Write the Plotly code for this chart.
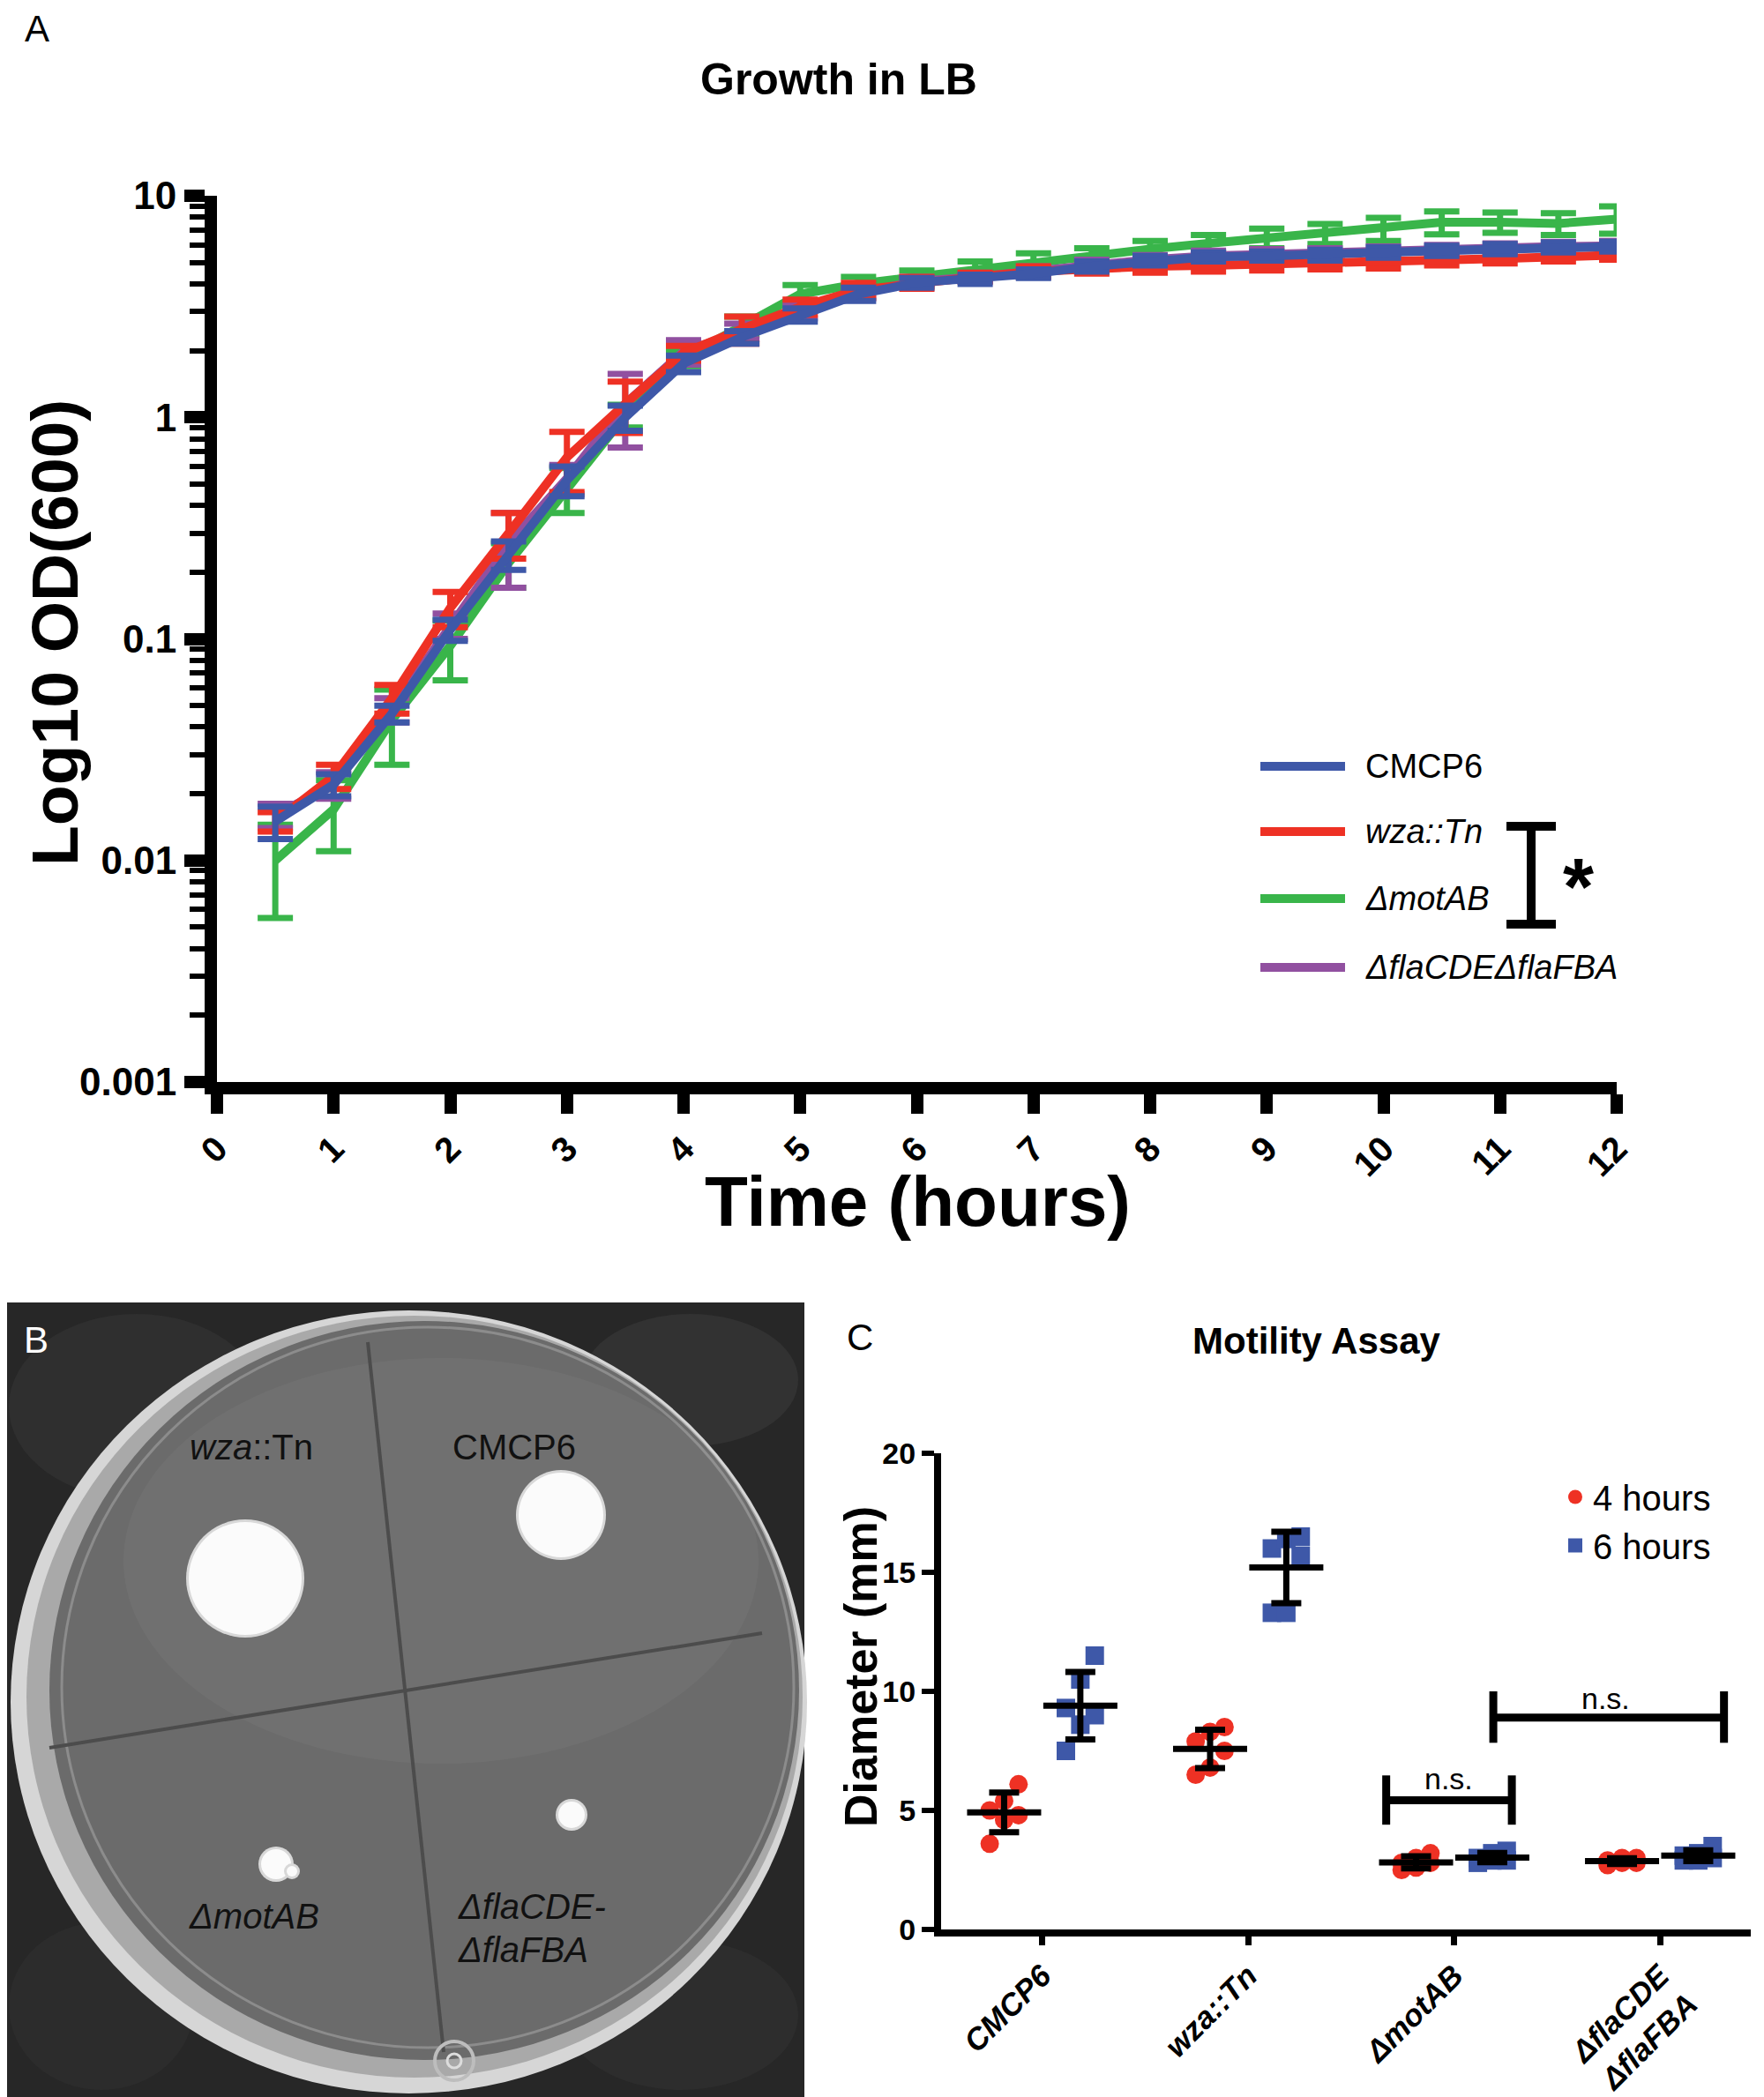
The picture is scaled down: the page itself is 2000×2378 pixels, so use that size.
import numpy as np
import plotly.graph_objects as go

# page is 2000 x 2378; the html body keeps an 8 px margin, so the figure is a bit smaller
# and every position below is given in page pixels and shifted by OFF
OFF = 8
W, H = 2000 - OFF, 2378 - OFF
FONT = "Liberation Sans, Arial, sans-serif"

# ---------------- panel A: growth in LB, OD600 mean +/- SD ----------------
hours = [0.5, 1, 1.5, 2, 2.5, 3, 3.5, 4, 4.5, 5, 5.5, 6,
         6.5, 7, 7.5, 8, 8.5, 9, 9.5, 10, 10.5, 11, 11.5, 12]

od_cmcp6 = [0.015, 0.022, 0.046, 0.11, 0.24, 0.52, 1.0, 1.75, 2.3, 2.9, 3.6, 4.05,
            4.2, 4.45, 4.8, 5.1, 5.3, 5.35, 5.4, 5.55, 5.65, 5.75, 5.85, 5.9]
sd_cmcp6 = [0.0025, 0.0025, 0.004, 0.012, 0.035, 0.08, 0.13, 0.15, 0.15, 0.2, 0.25, 0.2,
            0.2, 0.2, 0.25, 0.25, 0.25, 0.25, 0.3, 0.3, 0.3, 0.3, 0.3, 0.3]

od_wza = [0.015, 0.024, 0.054, 0.138, 0.3, 0.66, 1.15, 1.95, 2.5, 3.15, 3.75, 4.05,
          4.3, 4.55, 4.7, 4.8, 4.85, 4.9, 4.95, 5.0, 5.1, 5.2, 5.3, 5.4]
sd_wza = [0.0015, 0.003, 0.008, 0.025, 0.07, 0.2, 0.3, 0.15, 0.35, 0.25, 0.3, 0.25,
          0.2, 0.25, 0.25, 0.3, 0.3, 0.3, 0.3, 0.3, 0.25, 0.25, 0.25, 0.25]

od_mot = [0.0100, 0.0170, 0.043, 0.093, 0.22, 0.48, 1.02, 1.85, 2.6, 3.6, 4.0, 4.3,
          4.7, 5.05, 5.35, 5.75, 6.1, 6.45, 6.75, 7.1, 7.6, 7.6, 7.5, 7.85]
sd_mot = [0.0045, 0.006, 0.016, 0.028, 0.05, 0.11, 0.12, 0.15, 0.25, 0.35, 0.3, 0.3,
          0.35, 0.45, 0.45, 0.5, 0.55, 0.65, 0.7, 0.85, 0.9, 0.8, 0.85, 1.1]

od_fla = [0.016, 0.022, 0.048, 0.115, 0.27, 0.53, 1.15, 1.98, 2.45, 3.0, 3.65, 4.1,
          4.3, 4.55, 4.9, 5.15, 5.35, 5.45, 5.5, 5.6, 5.7, 5.8, 5.9, 5.95]
sd_fla = [0.002, 0.003, 0.006, 0.015, 0.1, 0.08, 0.42, 0.25, 0.2, 0.2, 0.2, 0.2,
          0.2, 0.25, 0.25, 0.25, 0.3, 0.3, 0.3, 0.3, 0.3, 0.3, 0.3, 0.3]

strain_names = ["CMCP6", "<i>wza::Tn</i>", "<i>ΔmotAB</i>", "<i>ΔflaCDEΔflaFBA</i>"]
od_ticks = [0.001, 0.01, 0.1, 1, 10]
od_ticktext = ["0.001", "0.01", "0.1", "1", "10"]

# ---------------- panel C: motility assay diameters (mm) ----------------
motility_groups = ["CMCP6", "wza::Tn", "ΔmotAB", "ΔflaCDE<br>ΔflaFBA"]
cmcp6_4h = [6.1, 5.4, 5.0, 4.8, 4.6, 3.6]
wza_4h = [8.5, 8.3, 7.9, 7.5, 6.8, 6.5]
mot_4h = [3.2, 3.0, 2.8, 2.8, 2.6, 2.5]
fla_4h = [3.0, 3.0, 2.9, 2.8, 2.8, 2.7]
cmcp6_6h = [11.5, 10.5, 9.3, 9.0, 8.6, 7.5]
wza_6h = [16.5, 16.4, 16.0, 15.7, 13.3, 13.3]
mot_6h = [3.3, 3.2, 3.0, 2.9, 2.9, 2.8]
fla_6h = [3.5, 3.2, 3.1, 3.0, 2.9, 2.9]
diam_ticks = [0, 5, 10, 15, 20]

BLUE = "#3e58a8"
RED = "#ee3124"
GREEN = "#39b54a"
PURPLE = "#9150a0"


def px(x):
    return (x - OFF) / W


def py(y):
    return 1 - (y - OFF) / H


fig = go.Figure()

# growth curves (drawn bottom to top)
for od, sd, col in [(od_mot, sd_mot, GREEN), (od_fla, sd_fla, PURPLE),
                    (od_wza, sd_wza, RED), (od_cmcp6, sd_cmcp6, BLUE)]:
    fig.add_trace(go.Scatter(x=hours, y=od, mode="lines",
                             line=dict(color=col, width=10),
                             error_y=dict(type="data", array=sd, color=col,
                                          thickness=7, width=20),
                             xaxis="x", yaxis="y", showlegend=False))

# motility points + mean/SD
group_off = 0.185
swarm = [-0.07, 0.0, 0.07]
for series, col, sym, name, side in [
        ([cmcp6_4h, wza_4h, mot_4h, fla_4h], RED, "circle", "4 hours", -1),
        ([cmcp6_6h, wza_6h, mot_6h, fla_6h], BLUE, "square", "6 hours", 1)]:
    xs, ys, mx, my, msd = [], [], [], [], []
    for i, vals in enumerate(series):
        centre = i + side * group_off
        order = np.argsort(vals)
        for k, j in enumerate(order):
            xs.append(centre + swarm[k % 3])
            ys.append(vals[j])
        mx.append(centre)
        my.append(float(np.mean(vals)))
        msd.append(float(np.std(vals, ddof=1)))
    fig.add_trace(go.Scatter(x=xs, y=ys, mode="markers", name=name,
                             marker=dict(color=col, size=21, symbol=sym),
                             xaxis="x2", yaxis="y2", legend="legend"))
    fig.add_trace(go.Scatter(x=mx, y=my, mode="markers", showlegend=False,
                             marker=dict(symbol="line-ew", size=60, color="black",
                                         line=dict(color="black", width=7)),
                             error_y=dict(type="data", array=msd, color="black",
                                          thickness=7, width=17),
                             xaxis="x2", yaxis="y2"))

shapes = []
annotations = []


def ellipse(x0, x1, y0, y1, fill=None, line=None, lw=0, layer="above"):
    return dict(type="circle", xref="paper", yref="paper", x0=px(x0), x1=px(x1),
                y0=py(y1), y1=py(y0), fillcolor=fill if fill else "rgba(0,0,0,0)",
                line=dict(color=line if line else "rgba(0,0,0,0)", width=lw), layer=layer)


def label(text, x, y, size, xanchor="center", color="black", angle=0, xref="paper", yref="paper"):
    if xref == "paper":
        x, y = px(x), py(y)
    return dict(text=text, x=x, y=y, xref=xref, yref=yref, xanchor=xanchor, yanchor="middle",
                showarrow=False, textangle=angle, font=dict(family=FONT, size=size, color=color))


# ---- panel B: drawn plate photo ----
shapes.append(dict(type="rect", xref="paper", yref="paper", x0=px(0), x1=px(912),
                   y0=py(2378), y1=py(1477), fillcolor="#272727", line_width=0, layer="below"))
for (x0, x1, y0, y1, c) in [(10, 300, 1490, 1700, "#2f2f2f"), (660, 905, 1490, 1640, "#323232"),
                            (640, 905, 2200, 2370, "#2d2d2d"), (10, 220, 2180, 2370, "#2c2c2c")]:
    shapes.append(ellipse(x0, x1, y0, y1, fill=c, layer="below"))

shapes.append(ellipse(12, 915, 1486, 2374, fill="#d6d6d6"))
shapes.append(ellipse(30, 910, 1492, 2356, fill="#a9a9a9"))
shapes.append(ellipse(56, 906, 1498, 2336, fill="#6b6b6b"))
shapes.append(ellipse(70, 900, 1505, 2322, line="#8c8c8c", lw=3))
shapes.append(ellipse(140, 860, 1540, 2000, fill="rgba(255,255,255,0.04)"))
for (x0, y0, x1, y1) in [(417, 1522, 503, 2327), (56, 1982, 864, 1852)]:
    shapes.append(dict(type="line", xref="paper", yref="paper", x0=px(x0), y0=py(y0),
                       x1=px(x1), y1=py(y1), line=dict(color="#4c4c4c", width=4)))
for (cx, cy, r) in [(278, 1790, 64), (636, 1718, 48), (313, 2114, 17), (331, 2122, 6), (648, 2058, 15)]:
    shapes.append(ellipse(cx - r - 3, cx + r + 3, cy - r - 3, cy + r + 3, fill="#d8d8d8"))
    shapes.append(ellipse(cx - r, cx + r, cy - r, cy + r, fill="#fbfbfb"))
shapes.append(ellipse(493, 537, 2315, 2359, line="#bdbdbd", lw=4))
shapes.append(ellipse(507, 523, 2329, 2345, line="#dddddd", lw=3))

for txt, x, y, anchor in [("<i>wza</i>::Tn", 285, 1641, "center"), ("CMCP6", 583, 1641, "center"),
                          ("<i>ΔmotAB</i>", 288, 2173, "center"),
                          ("<i>ΔflaCDE-</i>", 517, 2162, "left"), ("<i>ΔflaFBA</i>", 517, 2211, "left")]:
    annotations.append(label(txt, x, y, 40, xanchor=anchor, color="#111111"))

# ---- panel letters and titles ----
for letter, x, y, col in [("A", 42, 33, "black"), ("B", 41, 1519, "white"), ("C", 975, 1517, "black")]:
    annotations.append(label(letter, x, y, 42, color=col))

annotations.append(label("<b>Growth in LB</b>", 951, 90, 50))
annotations.append(label("<b>Time (hours)</b>", 1040, 1362, 80))
annotations.append(label("<b>Log10 OD(600)</b>", 62, 718, 75, angle=-90))
annotations.append(label("<b>Motility Assay</b>", 1492, 1520, 42))
annotations.append(label("<b>Diameter (mm)</b>", 976, 1890, 52, angle=-90))

# ---- panel A legend (drawn) and significance bracket ----
legend_rows = [869, 943, 1019, 1097]
for name, col, yy in zip(strain_names, [BLUE, RED, GREEN, PURPLE], legend_rows):
    shapes.append(dict(type="line", xref="paper", yref="paper", x0=px(1429), x1=px(1525),
                       y0=py(yy), y1=py(yy), line=dict(color=col, width=10)))
    annotations.append(label(name, 1546, yy, 38, xanchor="left"))
for (x0, y0, x1, y1) in [(1736, 937, 1736, 1048), (1708, 937, 1764, 937), (1708, 1048, 1764, 1048)]:
    shapes.append(dict(type="line", xref="paper", yref="paper", x0=px(x0), x1=px(x1),
                       y0=py(y0), y1=py(y1), line=dict(color="black", width=10)))
annotations.append(label("<b>*</b>", 1789, 1006, 90))

# ---- panel C n.s. brackets ----
for (xa, xb, yl, ylo, yhi, tx, ty) in [(1.67, 2.28, 5.43, 4.4, 6.47, 1.975, 6.35),
                                       (2.19, 3.31, 8.9, 7.84, 10.0, 2.737, 9.72)]:
    for (x0, y0, x1, y1) in [(xa, yl, xb, yl), (xa, ylo, xa, yhi), (xb, ylo, xb, yhi)]:
        shapes.append(dict(type="line", xref="x2", yref="y2", x0=x0, x1=x1, y0=y0, y1=y1,
                           line=dict(color="black", width=9)))
    annotations.append(label("n.s.", tx, ty, 34, xref="x2", yref="y2"))

bold = dict(family=FONT, color="black", weight="bold")

fig.update_layout(
    template="none",
    width=W, height=H,
    margin=dict(l=0, r=0, t=0, b=0, autoexpand=False),
    paper_bgcolor="white", plot_bgcolor="white",
    font=dict(family=FONT, color="black"),
    shapes=shapes, annotations=annotations,
    xaxis=dict(domain=[px(246), px(1833)], range=[0, 12], anchor="y", automargin=False,
               tickvals=list(range(13)), tickangle=-45, ticks="outside",
               ticklen=22, tickwidth=14, tickcolor="black",
               showline=True, linewidth=14, linecolor="black", showgrid=False, zeroline=False,
               tickfont=dict(size=40, **bold)),
    yaxis=dict(domain=[py(1227), py(222)], type="log", range=[-3, 1], anchor="x", automargin=False,
               tickvals=od_ticks, ticktext=od_ticktext, ticks="outside",
               ticklen=23, tickwidth=14, tickcolor="black",
               showline=True, linewidth=14, linecolor="black", showgrid=False, zeroline=False,
               tickfont=dict(size=44, **bold),
               minor=dict(ticks="outside", ticklen=17, tickwidth=6, tickcolor="black",
                          dtick="D1", showgrid=False)),
    xaxis2=dict(domain=[px(1067), px(1985)], range=[-0.491, 3.44], anchor="y2", automargin=False,
                tickvals=[0, 1, 2, 3], ticktext=motility_groups, tickangle=-45,
                ticks="outside", ticklen=10, tickwidth=7, tickcolor="black",
                showline=True, linewidth=8, linecolor="black", showgrid=False, zeroline=False,
                tickfont=dict(size=35, style="italic", **bold)),
    yaxis2=dict(domain=[py(2188), py(1648)], range=[0, 20], anchor="x2", automargin=False,
                tickvals=diam_ticks, ticks="outside", ticklen=14, tickwidth=6, tickcolor="black",
                showline=True, linewidth=8, linecolor="black", showgrid=False, zeroline=False,
                tickfont=dict(size=34, **bold)),
    legend=dict(x=px(1766), y=py(1665), xanchor="left", yanchor="top",
                font=dict(family=FONT, size=40, color="black"),
                bgcolor="rgba(0,0,0,0)", itemwidth=30, tracegroupgap=0),
)

fig.write_html("out.html")
